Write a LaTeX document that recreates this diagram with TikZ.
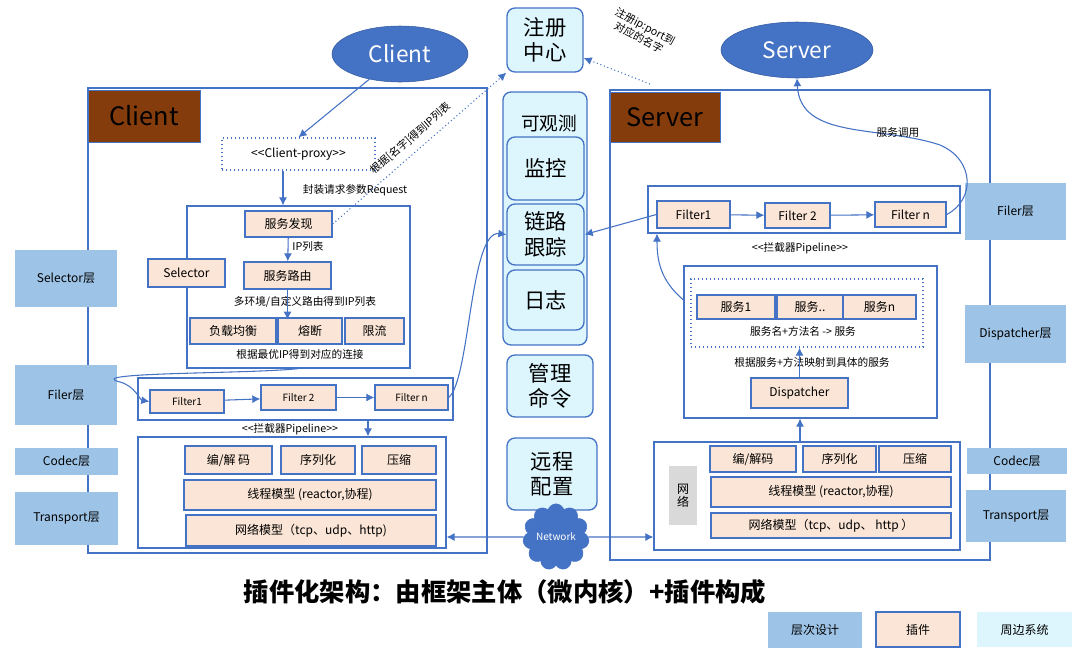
\documentclass[tikz,border=0pt]{standalone}
\usepackage{fontspec}
\setmainfont{Noto Sans CJK SC}
\usepackage{tikz}
\usetikzlibrary{arrows.meta, positioning, shapes, calc}
\definecolor{rpcblue}{HTML}{4472C4}
\definecolor{rpclayer}{HTML}{9DC3E6}
\definecolor{rpcplug}{HTML}{FBE5D6}
\definecolor{rpcperi}{HTML}{DDF6FD}
\definecolor{rpcbrown}{HTML}{843C0C}
\definecolor{rpcgray}{HTML}{D9D9D9}
\begin{document}
\begin{tikzpicture}[x=0.75pt, y=-0.75pt,
    wh/.style 2 args={minimum width={#1*0.75pt}, minimum height={#2*0.75pt}, inner sep=0pt},
    frame/.style={draw=rpcblue, line width=0.9pt, inner sep=0pt},
    plug/.style={rectangle, fill=rpcplug, draw=rpcblue, line width=1pt,
                 font=\fontsize{9}{10}\selectfont, align=center},
    layer/.style={rectangle, fill=rpclayer, font=\fontsize{9}{10}\selectfont, align=center},
    peri/.style={rectangle, rounded corners=6pt, fill=rpcperi, draw=rpcblue,
                 line width=1pt, font=\fontsize{16}{19}\selectfont, align=center},
    brown/.style={rectangle, fill=rpcbrown, draw=rpcblue, font=\fontsize{19}{21}\selectfont},
    role/.style={ellipse, fill=rpcblue, draw=rpcblue!80!black, text=white,
                 font=\fontsize{17}{19}\selectfont, inner sep=0pt},
    lbl/.style={font=\fontsize{8}{9}\selectfont, align=center, text=black},
    arr/.style={-{Latex[length=6pt,width=6pt]}, rpcblue, line width=0.8pt}
  ]
    \useasboundingbox (0,0) rectangle (1080,654);
    % big frames
    \node[frame, wh={399}{465}] (cframe) at (287.5,320.5) {};
    \node[frame, wh={380}{470}] (sframe) at (800,325) {};
    \node[brown, wh={112}{52}] (clab) at (144,116) {Client};
    \node[brown, wh={110}{50}] (slab) at (665,117) {Server};
    % ellipses
    \node[role, minimum width=136*0.75pt, minimum height=56*0.75pt] (client) at (400,54) {Client};
    \node[role, minimum width=152*0.75pt, minimum height=56*0.75pt] (server) at (797,50) {Server};
    % peripheral column
    \node[peri, wh={76}{64}] (reg) at (545,40) {注册\\中心};
    \node[peri, wh={84}{253}] (obs) at (545,218.5) {};
    \node[font=\fontsize{14}{16}\selectfont] at (549,123) {可观测};
    \node[peri, wh={77}{63}] (mon) at (545.5,168.5) {监控};
    \node[peri, wh={77}{61}] (trace) at (545.5,234.5) {链路\\跟踪};
    \node[peri, wh={77}{60}] (log) at (545.5,300) {日志};
    \node[peri, wh={86}{62}] (cmd) at (550,386) {管理\\命令};
    \node[peri, wh={90}{72}] (conf) at (552,474) {远程\\配置};
    % layer boxes
    \node[layer, wh={102}{57}] (lsel) at (66,278.5) {Selector层};
    \node[layer, wh={102}{60}] (lfil) at (66,395) {Filer层};
    \node[layer, wh={103}{27}] (lcod) at (66.5,461.5) {Codec层};
    \node[layer, wh={103}{53}] (ltra) at (66.5,518.5) {Transport层};
    \node[layer, wh={101}{57}] (rfil) at (1015.5,211.5) {Filer层};
    \node[layer, wh={101}{58}] (rdis) at (1015.5,334) {Dispatcher层};
    \node[layer, wh={100}{26}] (rcod) at (1017,461) {Codec层};
    \node[layer, wh={100}{52}] (rtra) at (1016,516) {Transport层};
    % client side
    \node[draw=rpcblue, dotted, line width=1pt, wh={153}{32}, font=\fontsize{9}{10}\selectfont] (proxy) at (298.5,154) {{<}{<}Client-proxy{>}{>}};
    \node[lbl] at (355,190) {封装请求参数Request};
    \node[frame, wh={223}{162}] (selbox) at (298.5,287) {};
    \node[plug, wh={87}{26}] (disc) at (288.5,224) {服务发现};
    \node[lbl] at (308,246) {IP列表};
    \node[plug, wh={87}{27}] (route) at (287.5,275.5) {服务路由};
    \node[plug, wh={77}{28}] (selector) at (186.5,273) {Selector};
    \node[lbl] at (305,302) {多环境/自定义路由得到IP列表};
    \node[plug, wh={86}{26}] (lb) at (233,331) {负载均衡};
    \node[plug, wh={64}{26}] (fuse) at (310,331) {熔断};
    \node[plug, wh={59}{26}] (limit) at (374.5,331) {限流};
    \node[lbl] at (300,354) {根据最优IP得到对应的连接};
    \node[frame, wh={315}{42}] (cpipe) at (295.5,399) {};
    \node[plug, wh={74}{23}, font=\fontsize{7.5}{9}\selectfont] (cf1) at (187,401.5) {Filter1};
    \node[plug, wh={75}{25}, font=\fontsize{7.5}{9}\selectfont] (cf2) at (298.5,397.5) {Filter 2};
    \node[plug, wh={73}{25}, font=\fontsize{7.5}{9}\selectfont] (cfn) at (411.5,397.5) {Filter n};
    \node[lbl] at (290,429) {{<}{<}拦截器Pipeline{>}{>}};
    \node[frame, wh={308}{111}] (ccod) at (292,492.5) {};
    \node[plug, wh={87}{28}] (cenc) at (228.5,460) {编/解 码};
    \node[plug, wh={74}{28}] (cser) at (318,460) {序列化};
    \node[plug, wh={74}{28}] (czip) at (399,460) {压缩};
    \node[plug, wh={252}{30}] (cthr) at (310,495) {线程模型 (reactor,协程)};
    \node[plug, wh={250}{31}] (cnet) at (311,530.5) {网络模型（tcp、udp、http)};
    % network
    \node[cloud, cloud puffs=11, fill=rpcblue, draw=rpcblue, text=white, minimum width=62*0.75pt,
          minimum height=36*0.75pt, inner sep=0pt, font=\fontsize{7.5}{8}\selectfont] (net) at (556,537) {Network};
    % server side
    \node[frame, wh={312}{47}] (spipe) at (804,209.5) {};
    \node[plug, wh={73}{27}] (sf1) at (693.5,214.5) {Filter1};
    \node[plug, wh={65}{25}] (sf2) at (797.5,215.5) {Filter 2};
    \node[plug, wh={71}{25}] (sfn) at (910.5,214.5) {Filter n};
    \node[lbl] at (800,248) {{<}{<}拦截器Pipeline{>}{>}};
    \node[frame, wh={253}{152}] (dbox) at (810.5,342) {};
    \node[draw=rpcblue, dotted, line width=1pt, wh={232}{68}] (svcs) at (807,313) {};
    \node[plug, wh={78}{24}] (s1) at (736,307) {服务1};
    \node[plug, wh={66}{24}] (s2) at (810,307) {服务..};
    \node[plug, wh={73}{24}] (sn) at (879.5,307) {服务n};
    \node[lbl] at (803,331) {服务名+方法名 -> 服务};
    \node[lbl] at (812,362) {根据服务+方法映射到具体的服务};
    \node[plug, wh={97}{30}] (disp) at (799.5,393) {Dispatcher};
    \node[frame, wh={306}{108}] (scod) at (807,496) {};
    \node[fill=rpcgray, wh={28}{59}, font=\fontsize{9}{10}\selectfont, align=center] (wl) at (683,495.5) {网\\络};
    \node[plug, wh={86}{26}] (senc) at (753,459) {编/解码};
    \node[plug, wh={73}{26}] (sser) at (839.5,459) {序列化};
    \node[plug, wh={72}{26}] (szip) at (915,459) {压缩};
    \node[plug, wh={240}{30}] (sthr) at (831,492) {线程模型 (reactor,协程)};
    \node[plug, wh={240}{25}] (snet) at (831,525.5) {网络模型（tcp、udp、 http ）};
    % title and legend
    \node[font=\bfseries\fontsize{19}{21}\selectfont] (title) at (505,592) {插件化架构：由框架主体（微内核）+插件构成};
    \node[layer, wh={94}{36}] (leg1) at (815,630) {层次设计};
    \node[plug, wh={84}{35}] (leg2) at (918,629.5) {插件};
    \node[rectangle, fill=rpcperi, wh={95}{35}, font=\fontsize{9}{10}\selectfont] (leg3) at (1024.5,629.5) {周边系统};
    % client arrows
    \draw[arr] (client) -- (proxy.north);
    \draw[arr] (proxy.south -| 283,0) -- (selbox.north -| 283,0);
    \draw[arr] (disc) -- (route);
    \draw[arr] (route.south) -- ++(0,30);
    \draw[arr, dotted] (disc.east) -- (reg.south west)
      node[midway, above=2pt, sloped, lbl] {根据[名字]得到IP列表};
    \draw[arr] (selbox.south) .. controls (250,374) and (80,372) .. (120,382)
      .. controls (135,386) and (140,400) .. (cf1.west);
    \draw[arr] (cf1) -- (cf2);
    \draw[arr] (cf2) -- (cfn);
    \draw[arr] (cfn.east) .. controls (470,380) and (470,230) .. (trace.west);
    \draw[arr] (cpipe.south -| 368,0) -- (ccod.north -| 368,0);
    \draw[arr] (net.west) -- (ccod.east |- net);
    \draw[arr] (net.east) -- (scod.west |- net);
    % server arrows
    \coordinate (regnote) at (650,84);
    \draw[arr, dotted] (regnote) -- (reg.east |- 0,58);
    \node[lbl, rotate=-28, font=\fontsize{8}{10}\selectfont] at (642,32) {注册ip:port到\\对应的名字};
    \draw[arr] (sf1.west) -- (trace.east);
    \draw[arr] (sf1) -- (sf2);
    \draw[arr] (sf2) -- (sfn);
    \draw[arr] (sfn.east) .. controls (975,200) and (975,160) .. (940,145)
      .. controls (880,125) and (800,140) .. (server.south);
    \node[lbl] at (898,132) {服务调用};
    \draw[arr] (dbox.west |- 0,300) .. controls (660,280) and (657,260) .. (spipe.south -| 657,0);
    \draw[arr] (disp.north) -- (svcs.south -| disp.north);
    \draw[arr] (scod.north -| 800,0) -- (dbox.south -| 800,0);
\end{tikzpicture}
\end{document}
